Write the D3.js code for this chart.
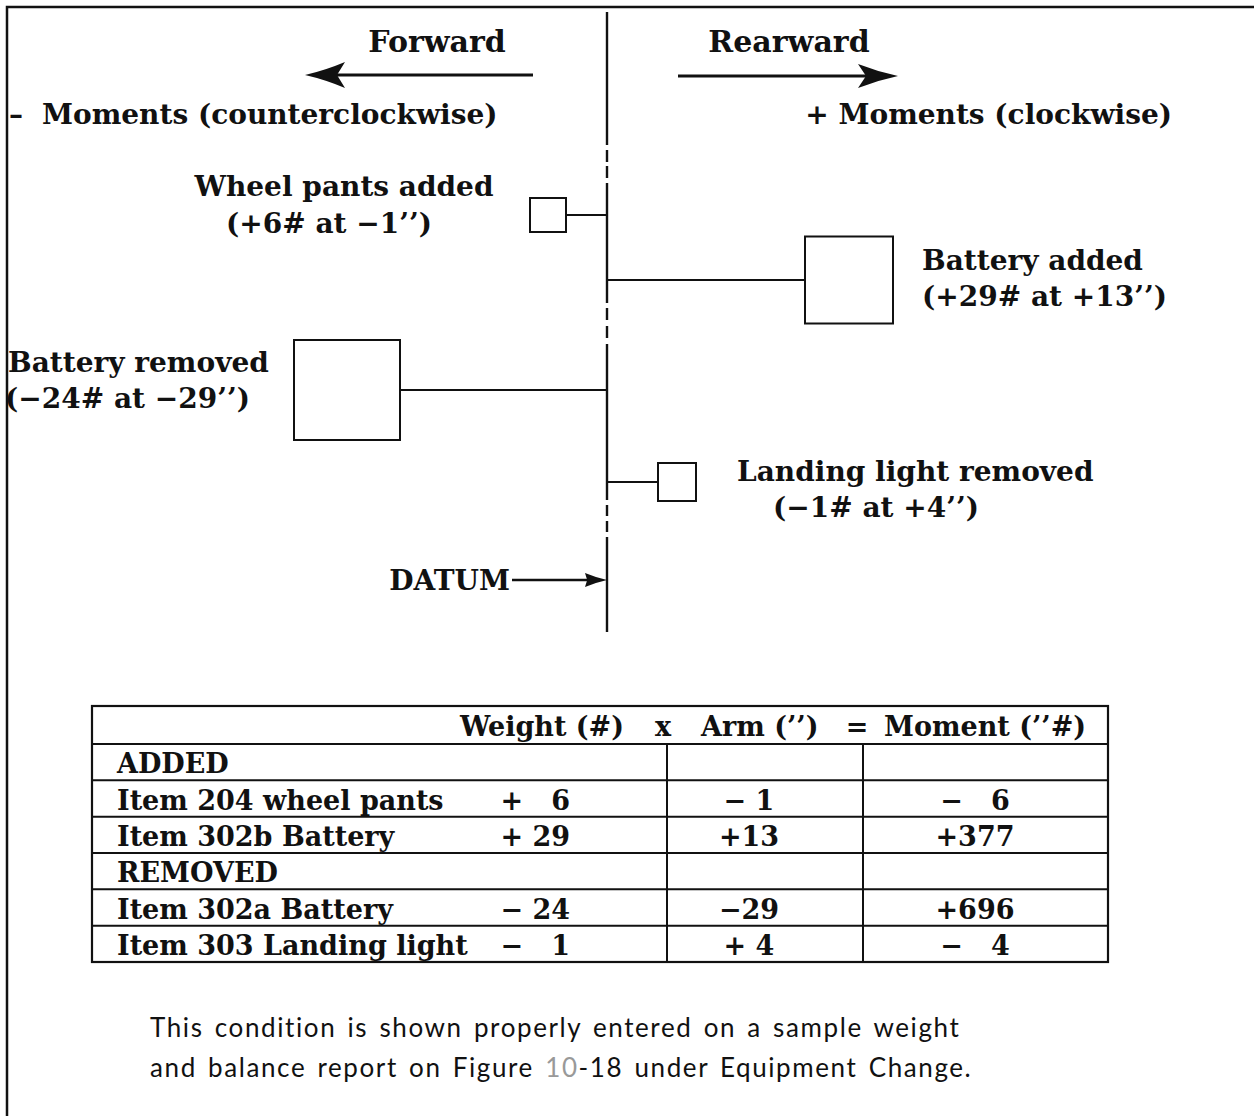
<!DOCTYPE html>
<html><head><meta charset="utf-8">
<script src="https://cdn.jsdelivr.net/npm/d3@7"></script>
<style>body{margin:0;background:#fff}</style>
</head><body>
<svg id="c" width="1254" height="1116"></svg>
<script>
// ---- data ----
const items = ["Wheel pants added", "Battery added", "Battery removed", "Landing light removed"];
const weights = [6, 29, -24, -1];
const arms = [-1, 13, -29, 4];
const detailLabels = ["(+6# at \u22121\u2019\u2019)", "(+29# at +13\u2019\u2019)", "(\u221224# at \u221229\u2019\u2019)", "(\u22121# at +4\u2019\u2019)"];
const tableHeader = ["Weight (#)", "x", "Arm (\u2019\u2019)", "=", "Moment (\u2019\u2019#)"];
const rowLabels = ["ADDED", "Item 204 wheel pants", "Item 302b Battery", "REMOVED", "Item 302a Battery", "Item 303 Landing light"];
const rowWeights = [null, "+   6", "+ 29", null, "\u2212 24", "\u2212   1"];
const rowArms = [null, "\u2212 1", "+13", null, "\u221229", "+ 4"];
const rowMoments = [null, "\u2212   6", "+377", null, "+696", "\u2212   4"];
const captionLines = ["This condition is shown properly entered on a sample weight", "and balance report on Figure |10|-18 under Equipment Change."];

// ---- scales ----
const datumX = 607;
const armScale = d3.scaleLinear().domain([-29, -1, 0, 4, 13]).range([datumX - 207, datumX - 41, datumX, datumX + 51, datumX + 198]);
const boxSize = d3.scaleOrdinal().domain(items).range([[36, 34], [88, 87], [106, 100], [38, 38]]);
const yScale = d3.scaleOrdinal().domain(items).range([215, 280, 390, 482]);
const rowScale = d3.scaleBand().domain(d3.range(rowLabels.length)).range([744, 962]);
const colX = d3.scaleOrdinal().domain(["label", "w", "a", "m"]).range([117, 570, 749, 975]);

const svg = d3.select("#c");
const serif = "'DejaVu Serif', serif";
const ink = "#111";

// frame
svg.append("path").attr("d", "M7,1116 V7 H1254").attr("fill", "none").attr("stroke", ink).attr("stroke-width", 2.5);

// datum line with dashed breaks
const datumSegs = [[12, 145], [150, 162], [166, 178], [183, 303], [308, 320], [326, 338], [344, 500], [505, 516], [521, 532], [537, 632]];
svg.selectAll(".dl").data(datumSegs).join("line")
  .attr("x1", datumX).attr("x2", datumX).attr("y1", d => d[0]).attr("y2", d => d[1])
  .attr("stroke", ink).attr("stroke-width", 2.4);

// arrows
function arrow(x1, x2, y, head, hw, notch, sw) {
  const dir = Math.sign(x2 - x1);
  svg.append("line").attr("x1", x1).attr("x2", x2 - dir * head * 0.6).attr("y1", y).attr("y2", y)
    .attr("stroke", ink).attr("stroke-width", sw);
  svg.append("path").attr("d", `M${x2},${y} Q${x2 - dir * head * 0.5},${y - hw * 0.35} ${x2 - dir * head},${y - hw} L${x2 - dir * head * notch},${y} L${x2 - dir * head},${y + hw} Q${x2 - dir * head * 0.5},${y + hw * 0.35} ${x2},${y} Z`).attr("fill", ink);
}
arrow(533, 305, 75, 40, 13, 0.8, 3);
arrow(678, 898, 76, 40, 12, 0.8, 3);
arrow(512, 607, 580, 22, 7, 0.9, 2.5);

// text helper
const t = (x, y, s, anchor, size) => svg.append("text").attr("x", x).attr("y", y).attr("text-anchor", anchor || "start")
    .attr("font-family", serif).attr("font-weight", "bold").attr("font-size", size || 28).attr("fill", ink).style("white-space", "pre").text(s);

t(437, 52, "Forward", "middle", 30);
t(789, 52, "Rearward", "middle", 30);
const ccw = t(9, 124, "\u2013", "start");
ccw.append("tspan").attr("x", 42).text("Moments (counterclockwise)");
t(1172, 124, "+ Moments (clockwise)", "end");
t(510, 590, "DATUM", "end");

// boxes and connectors
const labelPos = {
  "Wheel pants added": [[344, 196, "middle"], [329, 233, "middle"]],
  "Battery added": [[922, 270, "start"], [922, 306, "start"]],
  "Battery removed": [[8, 372, "start"], [5, 408, "start"]],
  "Landing light removed": [[737, 481, "start"], [773, 517, "start"]]
};
items.forEach((name, i) => {
  const a = arms[i];
  const xe = armScale(a);
  const y = yScale(name);
  const [w, h] = boxSize(name);
  svg.append("line").attr("x1", datumX).attr("x2", xe).attr("y1", y).attr("y2", y).attr("stroke", ink).attr("stroke-width", 2);
  const bx = a < 0 ? xe - w : xe;
  svg.append("rect").attr("x", bx).attr("y", y - h / 2).attr("width", w).attr("height", h)
    .attr("fill", "none").attr("stroke", ink).attr("stroke-width", 2);
  const lp = labelPos[name];
  t(lp[0][0], lp[0][1], name, lp[0][2]);
  t(lp[1][0], lp[1][1], detailLabels[i], lp[1][2]);
});

// table
const tx0 = 92, tx1 = 1108, ty0 = 706;
const tg = svg.append("g");
tg.append("rect").attr("x", tx0).attr("y", ty0).attr("width", tx1 - tx0).attr("height", 962 - ty0)
  .attr("fill", "none").attr("stroke", ink).attr("stroke-width", 2.2);
rowScale.domain().forEach(r => {
  tg.append("line").attr("x1", tx0).attr("x2", tx1).attr("y1", rowScale(r)).attr("y2", rowScale(r)).attr("stroke", ink).attr("stroke-width", 2);
});
[667, 863].forEach(x => tg.append("line").attr("x1", x).attr("x2", x).attr("y1", 744).attr("y2", 962).attr("stroke", ink).attr("stroke-width", 2));
const hdrX = [[624, "end"], [663, "middle"], [701, "start"], [857, "middle"], [884, "start"]];
tableHeader.forEach((s, i) => t(hdrX[i][0], 736, s, hdrX[i][1], 27));
const bw = rowScale.bandwidth();
rowLabels.forEach((s, r) => {
  const y = rowScale(r) + bw - 7;
  t(colX("label"), y, s, "start", 27);
  if (rowWeights[r]) t(colX("w"), y, rowWeights[r], "end", 27);
  if (rowArms[r]) t(colX("a"), y, rowArms[r], "middle", 27);
  if (rowMoments[r]) t(colX("m"), y, rowMoments[r], "middle", 27);
});

// caption
captionLines.forEach((line, i) => {
  const txt = svg.append("text").attr("x", 150).attr("y", 1037 + i * 40)
    .attr("font-family", "Lato, 'Noto Sans', sans-serif").attr("font-size", 26)
    .attr("letter-spacing", 1.6).attr("word-spacing", 3).attr("fill", ink);
  line.split("|").forEach((part, j) => {
    txt.append("tspan").attr("fill", j === 1 ? "#999" : ink).text(part);
  });
});
</script>
</body></html>
